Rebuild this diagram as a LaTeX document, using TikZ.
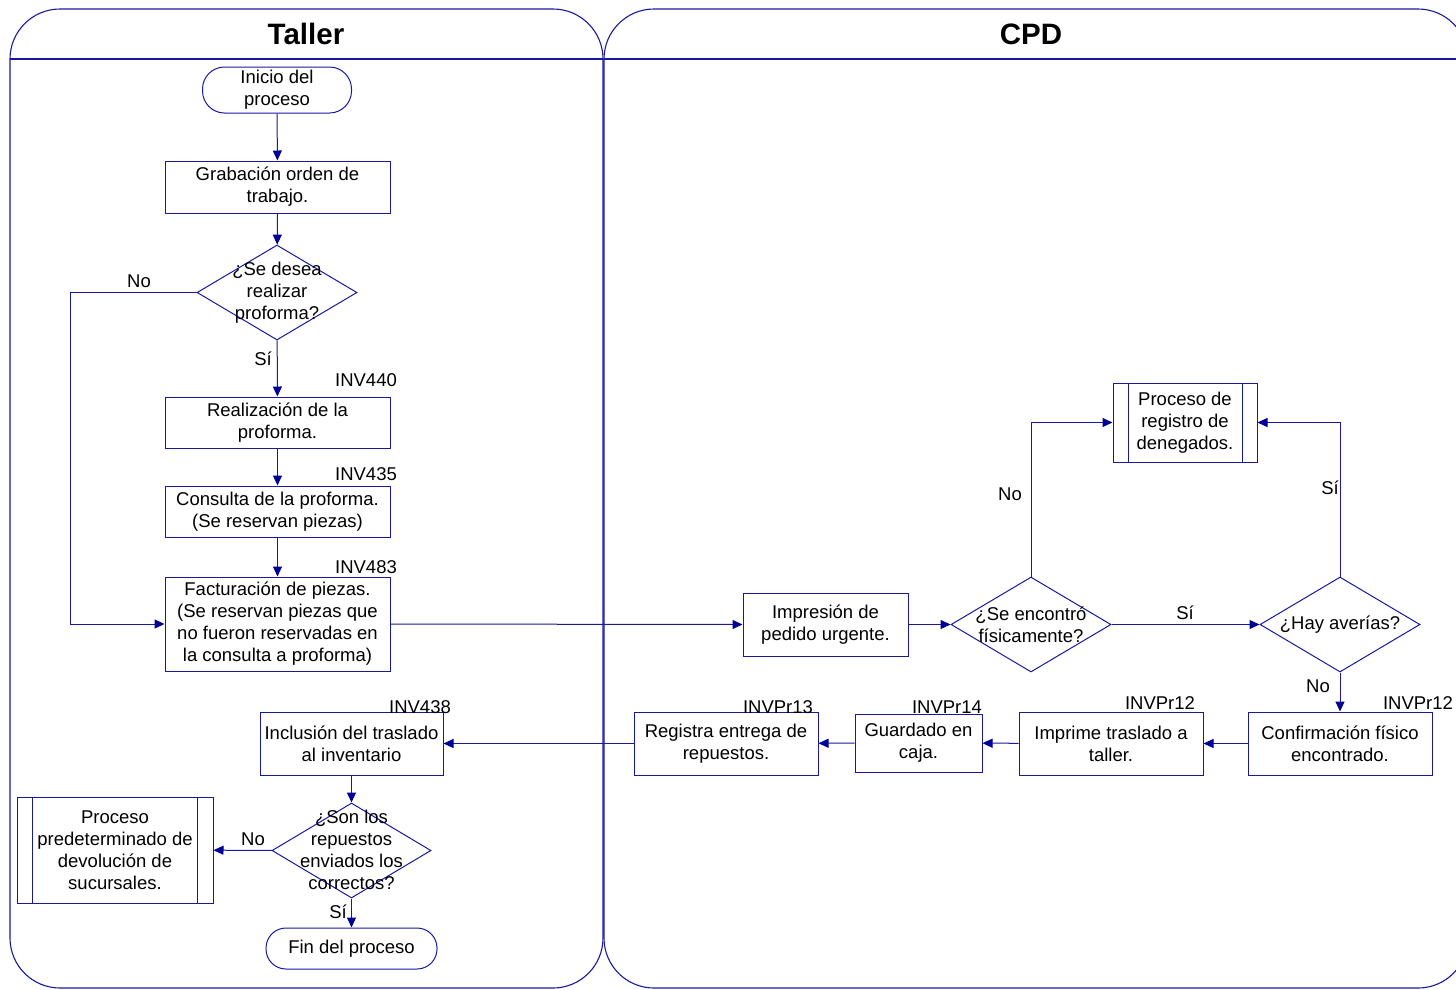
\documentclass[tikz,border=0pt]{standalone}
\usepackage{fontspec}
\setmainfont{Liberation Sans}
\usetikzlibrary{arrows.meta,shapes.geometric}
\definecolor{flowline}{RGB}{24,24,160}
\definecolor{flowtip}{RGB}{0,0,150}
\begin{document}
\begin{tikzpicture}[x=1pt,y=-1pt,
  every node/.style={font=\fontsize{18.5}{22}\selectfont, text=black},
  box/.style={draw=flowline, line width=1pt, rectangle, align=center, inner sep=0pt},
  term/.style={box, rounded corners=22pt},
  decision/.style={draw=flowline, line width=1pt, diamond, inner sep=0pt, minimum width=160pt, minimum height=95pt},
  dtext/.style={align=center, inner sep=0pt},
  code/.style={inner sep=0pt},
  lane/.style={draw=flowline, line width=1.1pt, rounded corners=50pt},
  lanetitle/.style={font=\fontsize{29.5}{32}\selectfont\bfseries},
  arr/.style={draw=flowline, line width=1pt, -{Triangle[length=10pt,width=9pt,fill=flowtip,color=flowtip]}},
  conn/.style={draw=flowline, line width=1pt}
]
\useasboundingbox (0,0) rectangle (1456,989);
\clip (0,0) rectangle (1456,989);

% swimlanes
\draw[lane] (10,9) rectangle (603,988);
\draw[lane] (604,9) rectangle (1468,988);
\draw[conn, line width=1.1pt] (10,59) -- (603,59);
\draw[conn, line width=1.1pt] (604,59) -- (1468,59);
\node[lanetitle] (tTaller) at (306,34) {Taller};
\node[lanetitle] (tCPD) at (1031,34) {CPD};

% Taller lane
\node[term, minimum width=149pt, minimum height=46pt] (inicio) at (277,90) {Inicio del\\proceso};
\node[box, minimum width=225pt, minimum height=52pt] (grab) at (277.5,187) {Grabación orden de\\trabajo.};
\node[decision] (dprof) at (277,292.5) {};
\node[dtext] (dproft) at (277,292.5) {¿Se desea\\realizar\\proforma?};
\node[box, minimum width=225pt, minimum height=51pt] (real) at (277.5,422.5) {Realización de la\\proforma.};
\node[code] (c440) at (366,380) {INV440};
\node[box, minimum width=225pt, minimum height=51pt] (cons) at (277.5,511.5) {Consulta de la proforma.\\(Se reservan piezas)};
\node[code] (c435) at (366,474) {INV435};
\node[box, minimum width=225pt, minimum height=94pt] (fact) at (277.5,624) {Facturación de piezas.\\(Se reservan piezas que\\no fueron reservadas en\\la consulta a proforma)};
\node[code] (c483) at (366,567) {INV483};

\node[box, minimum width=183pt, minimum height=63pt] (incl) at (351.5,743.5) {Inclusión del traslado\\al inventario};
\node[code] (c438) at (420,707) {INV438};
\node[decision, minimum width=159pt] (dsus) at (351.5,850.5) {};
\node[dtext] (dsust) at (351.5,850) {¿Son los\\repuestos\\enviados los\\correctos?};
\node[box, minimum width=196pt, minimum height=106pt] (devol) at (115,850) {Proceso\\predeterminado de\\devolución de\\sucursales.};
\draw[conn] ([xshift=16pt]devol.north west) -- ([xshift=16pt]devol.south west);
\draw[conn] ([xshift=-16pt]devol.north east) -- ([xshift=-16pt]devol.south east);
\node[term, minimum width=171pt, minimum height=41pt, rounded corners=20pt] (fin) at (351.5,948.5) {Fin del proceso};

% CPD lane
\node[box, minimum width=165pt, minimum height=63pt] (impr) at (825.5,624.5) {Impresión de\\pedido urgente.};
\node[decision] (denc) at (1031,624.5) {};
\node[dtext] (denct) at (1031,624.5) {¿Se encontró\\físicamente?};
\node[decision] (dave) at (1340,624.5) {};
\node[dtext] (davet) at (1340,624.5) {¿Hay averías?};
\node[box, minimum width=144pt, minimum height=79pt] (deneg) at (1185,422.5) {Proceso de\\registro de\\denegados.};
\draw[conn] ([xshift=16pt]deneg.north west) -- ([xshift=16pt]deneg.south west);
\draw[conn] ([xshift=-15pt]deneg.north east) -- ([xshift=-15pt]deneg.south east);

\node[box, minimum width=184pt, minimum height=63pt] (confi) at (1340,743.5) {Confirmación físico\\encontrado.};
\node[code] (cpr12b) at (1418,703) {INVPr12};
\node[box, minimum width=184pt, minimum height=63pt] (imptr) at (1111,743.5) {Imprime traslado a\\taller.};
\node[code] (cpr12a) at (1160,703) {INVPr12};
\node[box, minimum width=127pt, minimum height=58pt] (guard) at (918.5,743) {Guardado en\\caja.};
\node[code] (cpr14) at (947,707) {INVPr14};
\node[box, minimum width=184pt, minimum height=63pt] (regis) at (726,743.5) {Registra entrega de\\repuestos.};
\node[code] (cpr13) at (778,707) {INVPr13};

% connectors
\draw[arr] (inicio) -- (grab);
\draw[arr] (grab) -- (dprof);
\draw[arr] (dprof) -- (real);
\node (lsi1) at (263,359) {Sí};
\draw[arr] (dprof.west) -- ++(-126pt,0) |- (fact.west);
\node (lno1) at (139,281) {No};
\draw[arr] (real) -- (cons);
\draw[arr] (cons) -- (fact);
\draw[arr] (fact.east) -- (impr.west);
\draw[arr] (impr) -- (denc);
\draw[arr] (denc) -- (dave);
\node (lsi2) at (1185,613) {Sí};
\draw[arr] (denc.north) |- (deneg.west);
\node (lno2) at (1010,494) {No};
\draw[arr] (dave.north) |- (deneg.east);
\node (lsi3) at (1330,488) {Sí};
\draw[arr] (dave) -- (confi);
\node (lno3) at (1318,686) {No};
\draw[arr] (confi) -- (imptr);
\draw[arr] (imptr) -- (guard);
\draw[arr] (guard) -- (regis);
\draw[arr] (regis) -- (incl);
\draw[arr] (incl) -- (dsus);
\draw[arr] (dsus) -- (devol);
\node (lno4) at (253,839) {No};
\draw[arr] (dsus) -- (fin);
\node (lsi4) at (338,912) {Sí};
\end{tikzpicture}
\end{document}
